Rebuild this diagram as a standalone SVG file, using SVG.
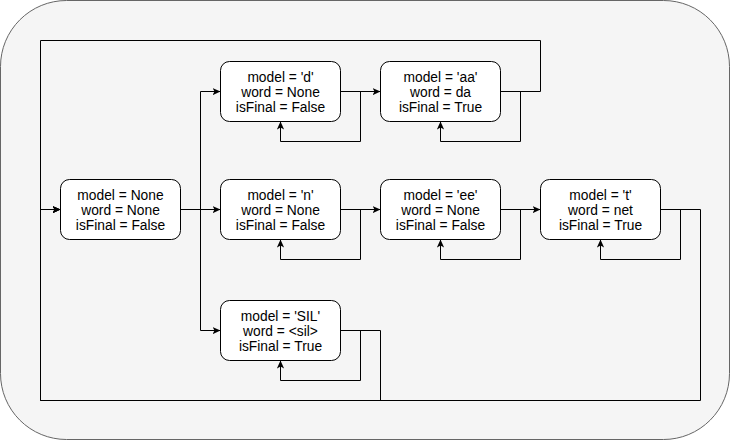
<svg xmlns="http://www.w3.org/2000/svg" width="731" height="441" viewBox="0 0 731 441">
<defs>
<marker id="arr" viewBox="0 0 10 10" refX="10" refY="5" markerWidth="8" markerHeight="8" markerUnits="userSpaceOnUse" orient="auto">
<path d="M0,0.5 L10,5 L0,9.5 L2.5,5 Z" fill="#000"/>
</marker>
<style>
.bg{fill:#f5f5f5;stroke:#666666;stroke-width:1}
.node rect{fill:#ffffff;stroke:#000000;stroke-width:1}
.node text{font-family:"Liberation Sans",Arial,sans-serif;font-size:13.8px;fill:#000;text-anchor:middle}
.edges path{fill:none;stroke:#000;stroke-width:1;marker-end:url(#arr)}
.edges path.plain{marker-end:none}
</style>
</defs>
<rect class="bg" x="0.5" y="0.5" width="729" height="439" rx="66" ry="66"/>

<g id="connectors" class="edges">
<!-- start transitions -->
<path d="M180.5,209.5 H200.5 V91.5 H220.5"/>
<path d="M180.5,209.5 H220.5"/>
<path d="M200.5,209.5 V330.5 H220.5"/>
<!-- forward transitions -->
<path d="M340.5,91.5 H380.5"/>
<path d="M340.5,209.5 H380.5"/>
<path d="M500.5,209.5 H540.5"/>
<!-- self loops -->
<path d="M340.5,91.5 H360.5 V141.5 H280.5 V121.5"/>
<path d="M500.5,91.5 H520.5 V141.5 H440.5 V121.5"/>
<path d="M340.5,209.5 H360.5 V259.5 H280.5 V239.5"/>
<path d="M500.5,209.5 H520.5 V259.5 H440.5 V239.5"/>
<path d="M660.5,209.5 H680.5 V259.5 H600.5 V239.5"/>
<path d="M340.5,330.5 H360.5 V380.5 H280.5 V360.5"/>
<!-- return loops to start -->
<path d="M500.5,91.5 H540.5 V40.5 H40.5 V209.5 H60.5"/>
<path d="M660.5,209.5 H700.5 V400.5 H40.5 V209.5 H60.5"/>
<path d="M340.5,330.5 H380.5 V400.5 H40.5 V209.5 H60.5"/>
</g>

<g id="node-start" class="node">
<rect x="60.5" y="179.5" width="120" height="60" rx="9" ry="9"/>
<text x="120.5" y="199.5">model = None</text>
<text x="120.5" y="214.5">word = None</text>
<text x="120.5" y="229.5">isFinal = False</text>
</g>
<g id="node-d" class="node">
<rect x="220.5" y="61.5" width="120" height="60" rx="9" ry="9"/>
<text x="280.5" y="81.5">model = 'd'</text>
<text x="280.5" y="96.5">word = None</text>
<text x="280.5" y="111.5">isFinal = False</text>
</g>
<g id="node-aa" class="node">
<rect x="380.5" y="61.5" width="120" height="60" rx="9" ry="9"/>
<text x="440.5" y="81.5">model = 'aa'</text>
<text x="440.5" y="96.5">word = da</text>
<text x="440.5" y="111.5">isFinal = True</text>
</g>
<g id="node-n" class="node">
<rect x="220.5" y="179.5" width="120" height="60" rx="9" ry="9"/>
<text x="280.5" y="199.5">model = 'n'</text>
<text x="280.5" y="214.5">word = None</text>
<text x="280.5" y="229.5">isFinal = False</text>
</g>
<g id="node-ee" class="node">
<rect x="380.5" y="179.5" width="120" height="60" rx="9" ry="9"/>
<text x="440.5" y="199.5">model = 'ee'</text>
<text x="440.5" y="214.5">word = None</text>
<text x="440.5" y="229.5">isFinal = False</text>
</g>
<g id="node-t" class="node">
<rect x="540.5" y="179.5" width="120" height="60" rx="9" ry="9"/>
<text x="600.5" y="199.5">model = 't'</text>
<text x="600.5" y="214.5">word = net</text>
<text x="600.5" y="229.5">isFinal = True</text>
</g>
<g id="node-sil" class="node">
<rect x="220.5" y="300.5" width="120" height="60" rx="9" ry="9"/>
<text x="280.5" y="320.5">model = 'SIL'</text>
<text x="280.5" y="335.5">word = &lt;sil&gt;</text>
<text x="280.5" y="350.5">isFinal = True</text>
</g>
</svg>
